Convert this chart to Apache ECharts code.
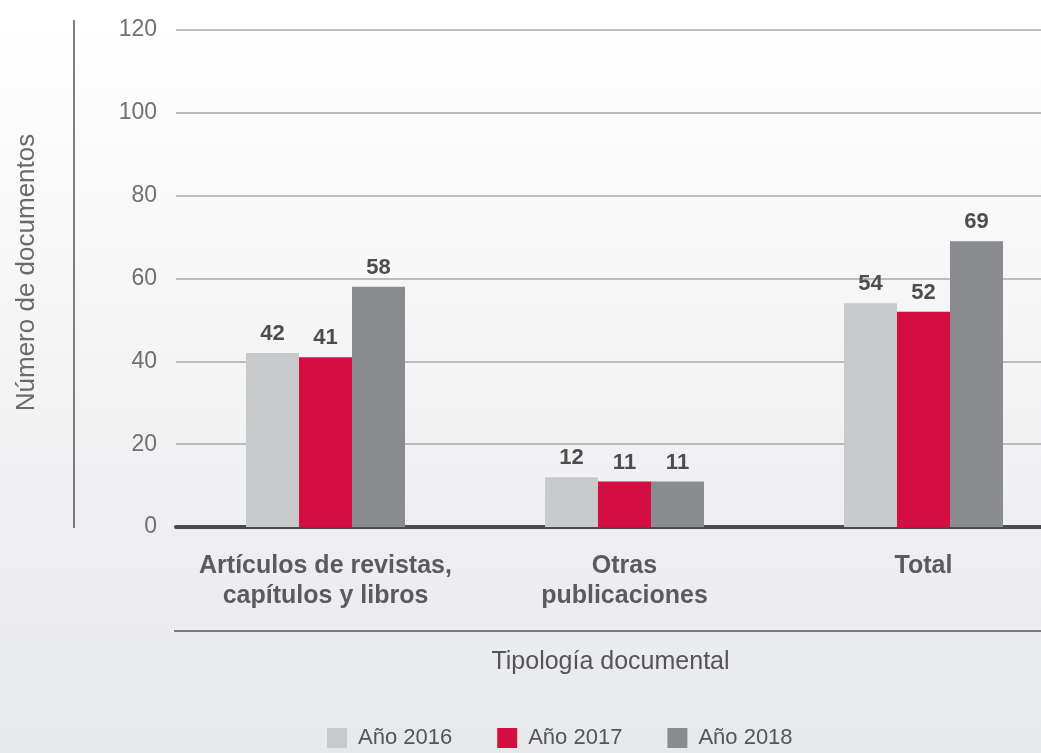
<!DOCTYPE html>
<html>
<head>
<meta charset="utf-8">
<script src="https://cdn.jsdelivr.net/npm/echarts@6/dist/echarts.min.js"></script>
<style>
  html, body { margin: 0; padding: 0; }
  #chart { width: 1041px; height: 753px; }
</style>
</head>
<body>
<div id="chart"></div>
<script>
  // categorías del eje x
  var categories = ['Artículos de revistas,\ncapítulos y libros', 'Otras\npublicaciones', 'Total'];
  // series por año
  var seriesNames = ['Año 2016', 'Año 2017', 'Año 2018'];
  var values2016 = [42, 12, 54];
  var values2017 = [41, 11, 52];
  var values2018 = [58, 11, 69];
  var colors = ['#c8c9cb', '#d40d42', '#8a8b8e'];

  var font = '"Liberation Sans", Arial, sans-serif';

  var chart = echarts.init(document.getElementById('chart'));

  function makeSeries(name, data, color) {
    return {
      type: 'bar',
      name: name,
      data: data,
      barWidth: 53,
      barGap: 0,
      itemStyle: { color: color },
      label: {
        show: true,
        position: 'top',
        distance: 8,
        color: '#4d4d4f',
        fontFamily: font,
        fontWeight: 'bold',
        fontSize: 22
      }
    };
  }

  chart.setOption({
    backgroundColor: new echarts.graphic.LinearGradient(0, 0, 0, 1, [
      { offset: 0, color: '#ffffff' },
      { offset: 1, color: '#e7e8ea' }
    ]),
    animation: false,
    color: colors,
    grid: { left: 176, right: -32, top: 30, bottom: 226, outerBoundsMode: 'none' },
    legend: {
      left: 322,
      top: 722,
      icon: 'rect',
      itemWidth: 20,
      itemHeight: 20,
      itemGap: 45,
      textStyle: {
        color: '#555557',
        fontFamily: font,
        fontSize: 22,
        padding: [0, 0, 0, 6]
      },
      data: seriesNames
    },
    xAxis: {
      type: 'category',
      data: categories,
      axisTick: { show: false },
      axisLine: { lineStyle: { color: '#4a4a4c', width: 4 } },
      axisLabel: {
        interval: 0,
        margin: 24,
        color: '#5b5b5d',
        fontFamily: font,
        fontWeight: 'bold',
        fontSize: 25,
        lineHeight: 30
      },
      name: 'Tipología documental',
      nameLocation: 'middle',
      nameGap: 123,
      nameTextStyle: {
        color: '#555557',
        fontFamily: font,
        fontSize: 25,
        padding: [0, 28, 0, 0]
      }
    },
    yAxis: {
      type: 'value',
      min: 0,
      max: 120,
      interval: 20,
      axisLine: { show: false },
      axisTick: { show: false },
      axisLabel: {
        margin: 19,
        color: '#707072',
        fontFamily: font,
        fontSize: 23
      },
      splitLine: { lineStyle: { color: '#a9a9ab', width: 1.5 } },
      name: 'Número de documentos',
      nameLocation: 'middle',
      nameGap: 136,
      nameTextStyle: {
        color: '#6a6a6c',
        fontFamily: font,
        fontSize: 26,
        padding: [0, 0, 0, 12]
      }
    },
    graphic: [
      {
        type: 'line',
        shape: { x1: 74, y1: 20, x2: 74, y2: 528 },
        style: { stroke: '#555557', lineWidth: 1.5 }
      },
      {
        type: 'line',
        shape: { x1: 174, y1: 631, x2: 1041, y2: 631 },
        style: { stroke: '#7a7a7c', lineWidth: 2 }
      }
    ],
    series: [
      makeSeries(seriesNames[0], values2016, colors[0]),
      makeSeries(seriesNames[1], values2017, colors[1]),
      makeSeries(seriesNames[2], values2018, colors[2])
    ]
  });
</script>
</body>
</html>
